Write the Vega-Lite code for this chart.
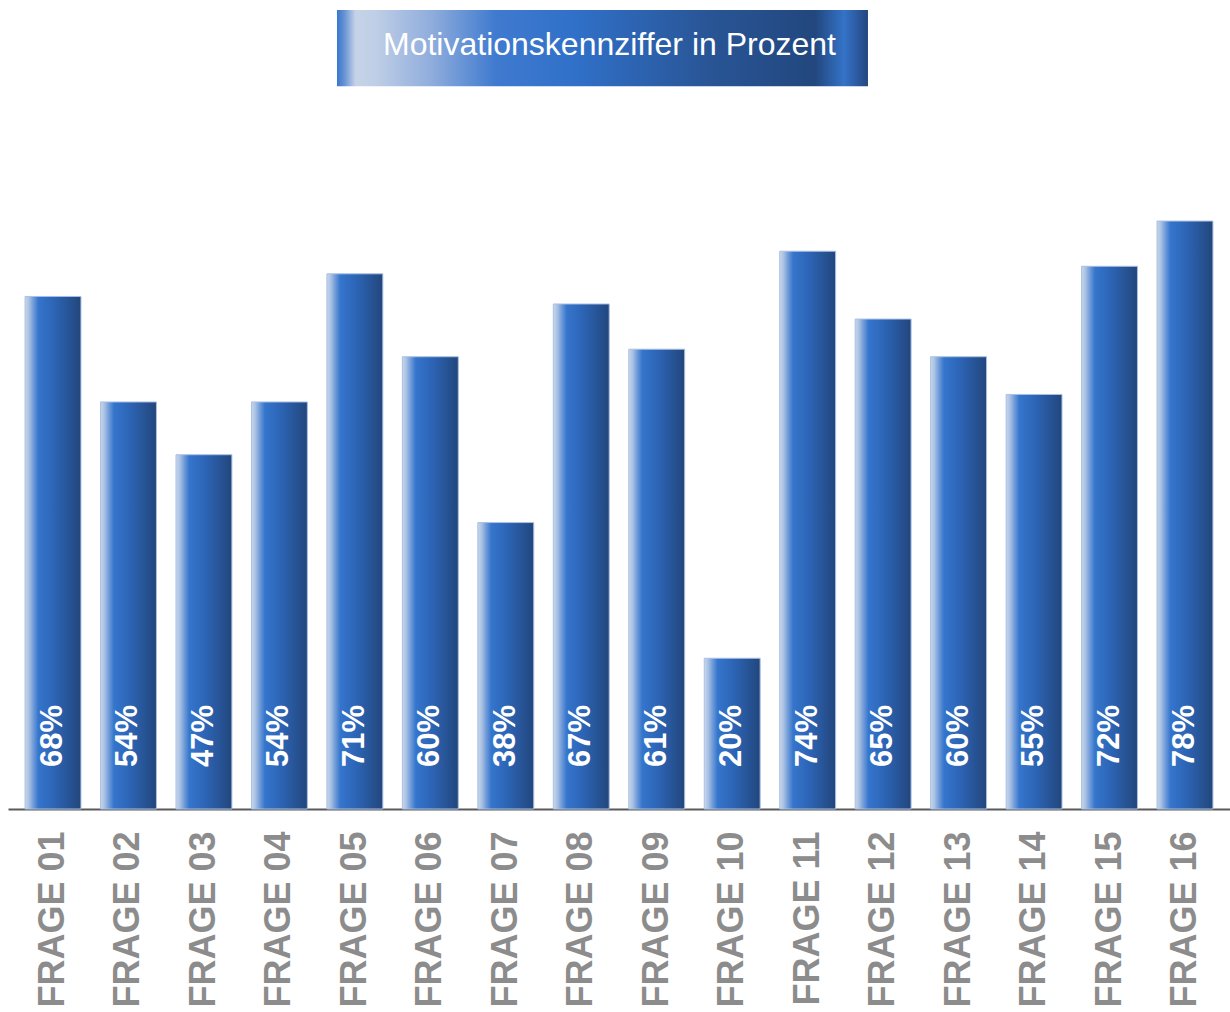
{
  "$schema": "https://vega.github.io/schema/vega-lite/v6.json",
  "width": 1222,
  "height": 799,
  "autosize": {"type": "none"},
  "padding": {"left": 8, "top": 10, "right": 0, "bottom": 203},
  "background": "white",
  "config": {"view": {"stroke": null}, "font": "Liberation Sans"},
  "datasets": {
    "werte": [
      {"frage": "FRAGE 01", "wert": 0.68},
      {"frage": "FRAGE 02", "wert": 0.54},
      {"frage": "FRAGE 03", "wert": 0.47},
      {"frage": "FRAGE 04", "wert": 0.54},
      {"frage": "FRAGE 05", "wert": 0.71},
      {"frage": "FRAGE 06", "wert": 0.60},
      {"frage": "FRAGE 07", "wert": 0.38},
      {"frage": "FRAGE 08", "wert": 0.67},
      {"frage": "FRAGE 09", "wert": 0.61},
      {"frage": "FRAGE 10", "wert": 0.20},
      {"frage": "FRAGE 11", "wert": 0.74},
      {"frage": "FRAGE 12", "wert": 0.65},
      {"frage": "FRAGE 13", "wert": 0.60},
      {"frage": "FRAGE 14", "wert": 0.55},
      {"frage": "FRAGE 15", "wert": 0.72},
      {"frage": "FRAGE 16", "wert": 0.78}
    ],
    "kopf": [{"titel": "Motivationskennziffer in Prozent"}]
  },
  "layer": [
    {
      "data": {"name": "werte"},
      "mark": {
        "type": "bar",
        "fill": {
          "gradient": "linear", "x1": 0, "y1": 0, "x2": 1, "y2": 0,
          "stops": [
            {"offset": 0, "color": "#c9d7eb"},
            {"offset": 0.07, "color": "#a9c1e3"},
            {"offset": 0.15, "color": "#6f9bd9"},
            {"offset": 0.24, "color": "#3575cc"},
            {"offset": 0.5, "color": "#2d66b8"},
            {"offset": 1, "color": "#22467c"}
          ]
        },
        "stroke": "#a9c0e4",
        "strokeWidth": 1
      },
      "encoding": {
        "x": {
          "field": "frage", "type": "nominal", "sort": null,
          "scale": {"paddingInner": 0.259, "paddingOuter": 0.226},
          "axis": {
            "title": null, "ticks": false, "grid": false,
            "labelAngle": -90, "labelAlign": "right", "labelBaseline": "middle",
            "labelPadding": 22, "labelFontSize": 36, "labelFontWeight": "bold",
            "labelColor": "#8c8c8c", "labelFont": "Liberation Sans",
            "labelOverlap": false,
            "domainColor": "#5a5a5a", "domainWidth": 2
          }
        },
        "y": {"field": "wert", "type": "quantitative", "scale": {"domain": [0, 1.06], "nice": false, "zero": true}, "axis": null}
      }
    },
    {
      "data": {"name": "werte"},
      "mark": {
        "type": "text", "angle": 270, "align": "left", "baseline": "middle",
        "dx": 42, "fontSize": 31, "fontWeight": "bold", "color": "white",
        "font": "Liberation Sans"
      },
      "encoding": {
        "x": {"field": "frage", "type": "nominal", "sort": null},
        "y": {"datum": 0, "type": "quantitative"},
        "text": {"field": "wert", "type": "quantitative", "format": ".0%"}
      }
    },
    {
      "data": {"name": "kopf"},
      "mark": {
        "type": "rect",
        "fill": {
          "gradient": "linear", "x1": 0, "y1": 0, "x2": 1, "y2": 0,
          "stops": [
            {"offset": 0, "color": "#3a76cc"},
            {"offset": 0.015, "color": "#6b95d6"},
            {"offset": 0.035, "color": "#c6d3e7"},
            {"offset": 0.07, "color": "#c0cfe6"},
            {"offset": 0.18, "color": "#8eacdc"},
            {"offset": 0.3, "color": "#3f7acf"},
            {"offset": 0.45, "color": "#3070c8"},
            {"offset": 0.7, "color": "#295596"},
            {"offset": 0.9, "color": "#22477e"},
            {"offset": 0.955, "color": "#3473c7"},
            {"offset": 0.985, "color": "#2a5598"},
            {"offset": 1, "color": "#23487f"}
          ]
        }
      },
      "encoding": {
        "x": {"datum": "FRAGE 05", "bandPosition": 0.18},
        "x2": {"datum": "FRAGE 12", "bandPosition": 0.229},
        "y": {"datum": 0.959, "type": "quantitative"},
        "y2": {"datum": 1.06}
      }
    },
    {
      "data": {"name": "kopf"},
      "mark": {
        "type": "text", "align": "center", "baseline": "middle",
        "fontSize": 32, "color": "white", "font": "Liberation Sans"
      },
      "encoding": {
        "x": {"datum": "FRAGE 08", "bandPosition": 1.005},
        "y": {"datum": 1.0135, "type": "quantitative"},
        "text": {"field": "titel", "type": "nominal"}
      }
    }
  ]
}
